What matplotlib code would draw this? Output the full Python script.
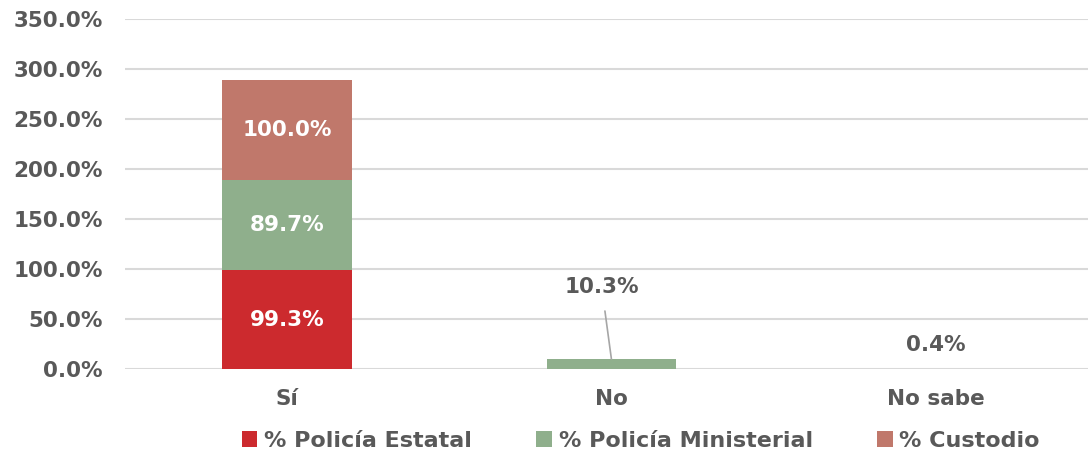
import matplotlib.pyplot as plt
import numpy as np

categorias = ["Sí", "No", "No sabe"]
series = ["% Policía Estatal", "% Policía Ministerial", "% Custodio"]
estatal = [99.3, 0.0, 0.4]
ministerial = [89.7, 10.3, 0.0]
custodio = [100.0, 0.0, 0.0]
colores = ["#CC2A2E", "#8FAF8C", "#C0786B"]

gris = "#595959"
plt.rcParams['font.family'] = ['DejaVu Sans']
plt.rcParams['font.weight'] = 'bold'

fig = plt.figure(figsize=(10.88, 4.57), dpi=100)
ax = fig.add_axes([0.115, 0.192, 0.885, 0.766])

x = np.arange(len(categorias))
ancho = 0.4
valores = [estatal, ministerial, custodio]
base = np.zeros(len(categorias))
barras = []
for nombre, vals, col in zip(series, valores, colores):
    b = ax.bar(x, vals, ancho, bottom=base, color=col, label=nombre, zorder=3)
    barras.append(b)
    base = base + np.array(vals)

# etiquetas dentro de la barra "Sí"
bottom = 0
for vals in valores:
    v = vals[0]
    ax.text(x[0], bottom + v / 2, f"{v:.1f}%", ha="center", va="center",
            color="white", fontsize=15.5, fontweight="bold", zorder=4)
    bottom += v

# "No" con línea guía
v_no = ministerial[1]
ax.annotate(f"{v_no:.1f}%", xy=(x[1], v_no / 2 + 5), xytext=(x[1] - 0.03, 82),
            ha="center", va="center", color=gris, fontsize=15.5, fontweight="bold",
            arrowprops=dict(arrowstyle="-", color="#A6A6A6", lw=1.2, shrinkA=8, shrinkB=0))

# "No sabe"
v_ns = estatal[2]
ax.text(x[2], 24, f"{v_ns:.1f}%", ha="center", va="center", color=gris,
        fontsize=15.5, fontweight="bold")

ax.set_xlim(-0.5, 2.47)
ax.set_ylim(0, 350)
ax.set_yticks(np.arange(0, 351, 50))
ax.set_yticklabels([f"{t:.1f}%" for t in np.arange(0, 351, 50)])
ax.set_xticks(x)
ax.set_xticklabels(categorias)
ax.tick_params(axis="both", length=0, labelsize=15.5, labelcolor=gris)
ax.tick_params(axis="x", pad=14)
ax.tick_params(axis="y", pad=16)
for lab in ax.get_xticklabels() + ax.get_yticklabels():
    lab.set_fontweight("bold")

ax.grid(axis="y", color="#D9D9D9", lw=1.5, zorder=0)
for s in ax.spines.values():
    s.set_visible(False)

leg = fig.legend(handles=barras, labels=series, loc="lower center",
                 bbox_to_anchor=(0.589, -0.03), ncol=3, frameon=False,
                 fontsize=16, handlelength=0.7, handleheight=0.7,
                 handletextpad=0.3, columnspacing=2.9)
for t in leg.get_texts():
    t.set_color(gris)
    t.set_fontweight("bold")

fig.savefig("out.png", dpi=100)
